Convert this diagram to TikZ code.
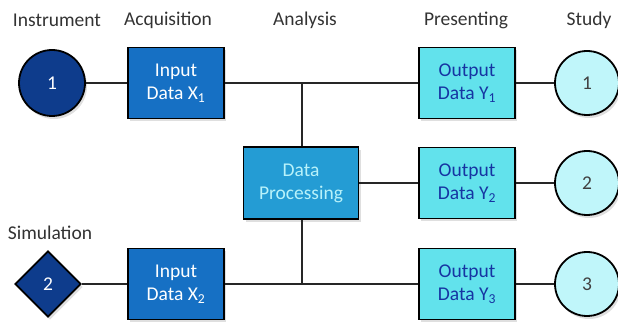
\documentclass[tikz,border=0pt]{standalone}
\usepackage{fontspec}
\setmainfont{Carlito}
\usetikzlibrary{shapes.geometric,shadows}

\definecolor{navyblue}{RGB}{14,60,140}
\definecolor{inblue}{RGB}{22,112,196}
\definecolor{procblue}{RGB}{36,156,212}
\definecolor{outcyan}{RGB}{98,226,236}
\definecolor{studycyan}{RGB}{192,246,250}
\definecolor{outtext}{RGB}{22,52,162}
\definecolor{proctext}{RGB}{184,242,250}

\begin{document}
\begin{tikzpicture}[x=1pt,y=-1pt,
  txt/.style={font=\fontsize{19.5}{23}\selectfont},
  shade/.style={drop shadow={opacity=0.25,shadow xshift=2pt,shadow yshift=-3pt}},
  box/.style={txt,shade,draw=black,line width=1.8pt,minimum width=96pt,minimum height=71pt,align=center,inner sep=0pt},
  inbox/.style={box,fill=inblue,text=white},
  procbox/.style={box,fill=procblue,text=proctext,minimum width=115pt,minimum height=72pt},
  outbox/.style={box,fill=outcyan,text=outtext},
  study/.style={txt,shade,circle,draw=black,line width=1.8pt,fill=studycyan,text=black!75,minimum size=64pt,inner sep=0pt},
  conn/.style={line width=1.8pt,draw=black!85}]

\useasboundingbox (0,0) rectangle (618,328);

% column titles
\node[txt,text=black!80] at (57,20)  {Instrument};
\node[txt,text=black!80] at (168,20) {Acquisition};
\node[txt,text=black!80] at (305,20) {Analysis};
\node[txt,text=black!80] at (466,20) {Presenting};
\node[txt,text=black!80] at (589,20) {Study};
\node[txt,text=black!80] at (50,233) {Simulation};

% sources
\node[txt,shade,circle,draw=black,line width=1.8pt,fill=navyblue,text=white,minimum size=66pt,inner sep=0pt] (instr) at (52,83) {1};
\node[txt,shade,diamond,draw=black,line width=1.8pt,fill=navyblue,text=white,minimum width=66pt,minimum height=66pt,inner sep=0pt] (simul) at (48,284) {2};

% data boxes
\node[inbox] (in1) at (176,83) {Input\\Data X\textsubscript{1}};
\node[inbox] (in2) at (176,284) {Input\\Data X\textsubscript{2}};
\node[procbox] (proc) at (301,183) {Data\\Processing};
\foreach \i/\y in {1/83,2/183,3/284}{
  \node[outbox] (out\i) at (467,\y) {Output\\Data Y\textsubscript{\i}};
  \node[study] (study\i) at (587,\y) {\i};
}

\coordinate (j1) at (302,83);
\coordinate (j2) at (302,284);

% connectors
\draw[conn] (instr) -- (in1);
\draw[conn] (simul) -- (in2);
\draw[conn] (in1) -- (out1);
\draw[conn] (in2) -- (out3);
\draw[conn] (j1) -- (j1 |- proc.north);
\draw[conn] (j2 |- proc.south) -- (j2);
\draw[conn] (proc) -- (out2);
\foreach \i in {1,2,3}
  \draw[conn] (out\i) -- (study\i);
\end{tikzpicture}
\end{document}
